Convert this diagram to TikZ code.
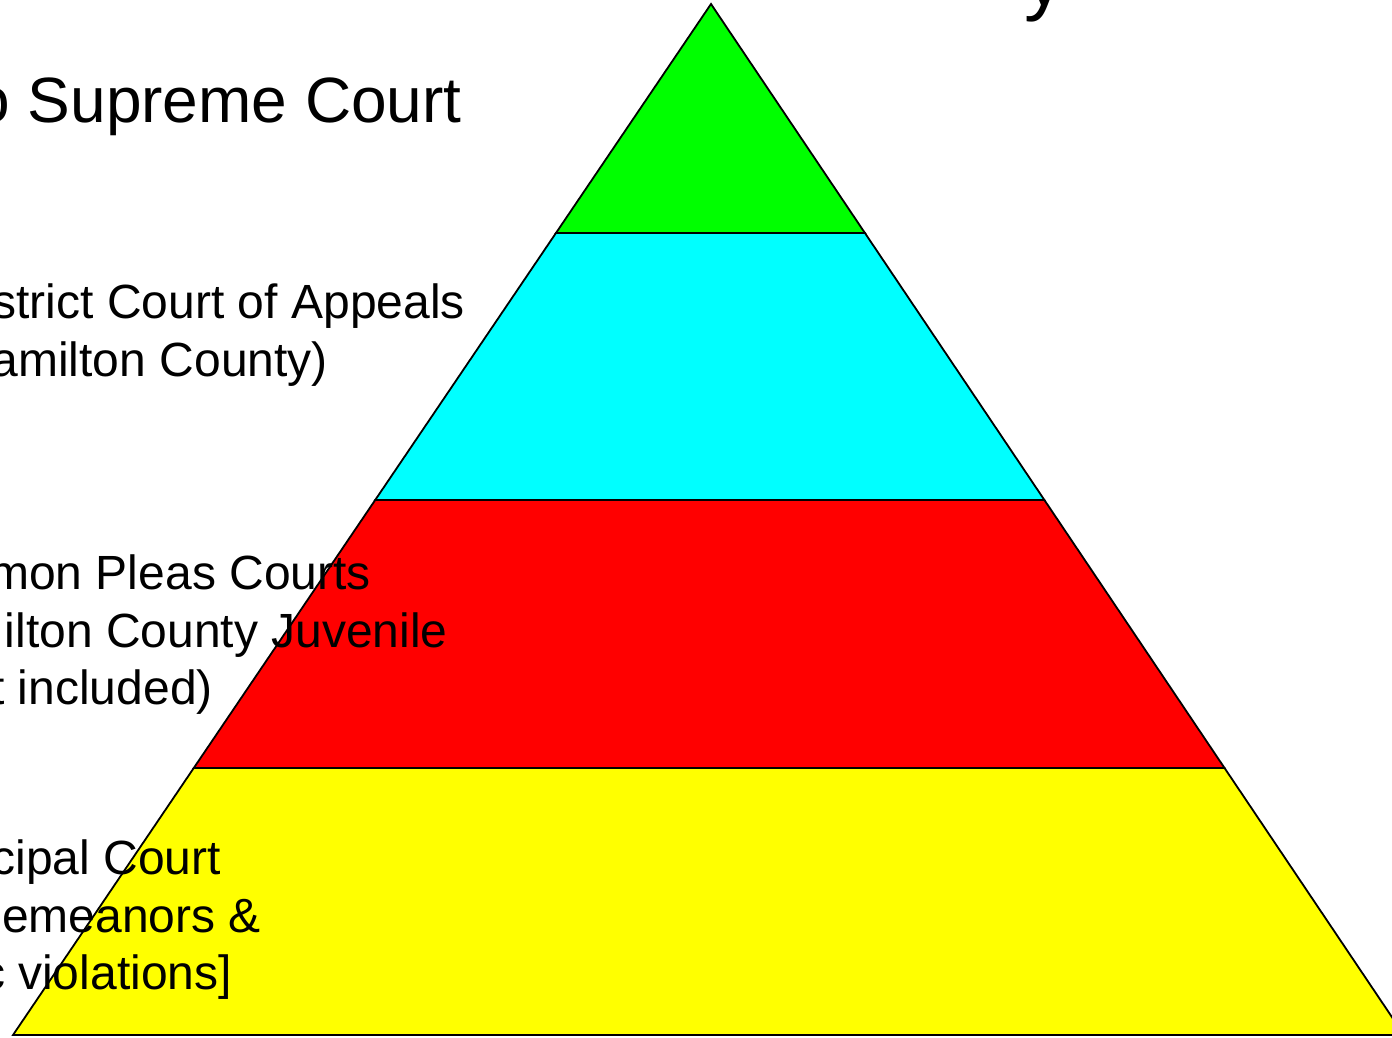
\documentclass[tikz,border=0pt]{standalone}
\usepackage{fontspec}
\setmainfont{Liberation Sans}
\usetikzlibrary{calc}

\definecolor{topgreen}{RGB}{0,255,0}
\definecolor{appealcyan}{RGB}{0,255,255}
\definecolor{pleasred}{RGB}{255,0,0}
\definecolor{muniyellow}{RGB}{255,255,0}

\tikzset{
  band/.style={draw=black, line width=1.8pt, line join=miter},
  courtline/.style={anchor=base east, inner sep=0pt, font=\fontsize{48}{57.5}\selectfont},
  bigline/.style={anchor=base east, inner sep=0pt, font=\fontsize{64}{76}\selectfont},
}

\begin{document}
\begin{tikzpicture}[x=1pt,y=-1pt]
    \useasboundingbox (0,0) rectangle (1392,1037);
    \clip (0,0) rectangle (1392,1037);

    % pyramid corners
    \coordinate (apex) at (711,4);
    \coordinate (baseL) at (13,1035);
    \coordinate (baseR) at (1404,1035);
    \coordinate (l1) at ($(apex)!0.2221!(baseL)$);
    \coordinate (r1) at ($(apex)!0.2221!(baseR)$);
    \coordinate (l2) at ($(apex)!0.4811!(baseL)$);
    \coordinate (r2) at ($(apex)!0.4811!(baseR)$);
    \coordinate (l3) at ($(apex)!0.7410!(baseL)$);
    \coordinate (r3) at ($(apex)!0.7410!(baseR)$);

    % bands
    \draw [band, fill=topgreen] (apex) -- (r1) -- (l1) -- cycle;
    \draw [band, fill=appealcyan] (l1) -- (r1) -- (r2) -- (l2) -- cycle;
    \draw [band, fill=pleasred] (l2) -- (r2) -- (r3) -- (l3) -- cycle;
    \draw [band, fill=muniyellow] (l3) -- (r3) -- (baseR) -- (baseL) -- cycle;

    % title (cut off)
    \node [anchor=base west, inner sep=0pt, font=\fontsize{80}{96}\selectfont] (title) at (1024,5) {y};

    % court names
    \node [bigline] (supreme) at (462,122) {o Supreme Court};
    \node [courtline] (appealsA) at (465,318) {strict Court of Appeals};
    \node [courtline] (appealsB) at (328,376) {amilton County)};
    \node [courtline] (pleasA) at (371,589) {mon Pleas Courts};
    \node [courtline] (pleasB) at (448,647) {ilton County Juvenile};
    \node [courtline] (pleasC) at (213,704) {t included)};
    \node [courtline] (muniA) at (221,874) {cipal Court};
    \node [courtline] (muniB) at (261,932) {emeanors \&};
    \node [courtline] (muniC) at (232,989) {c violations]};
\end{tikzpicture}
\end{document}
